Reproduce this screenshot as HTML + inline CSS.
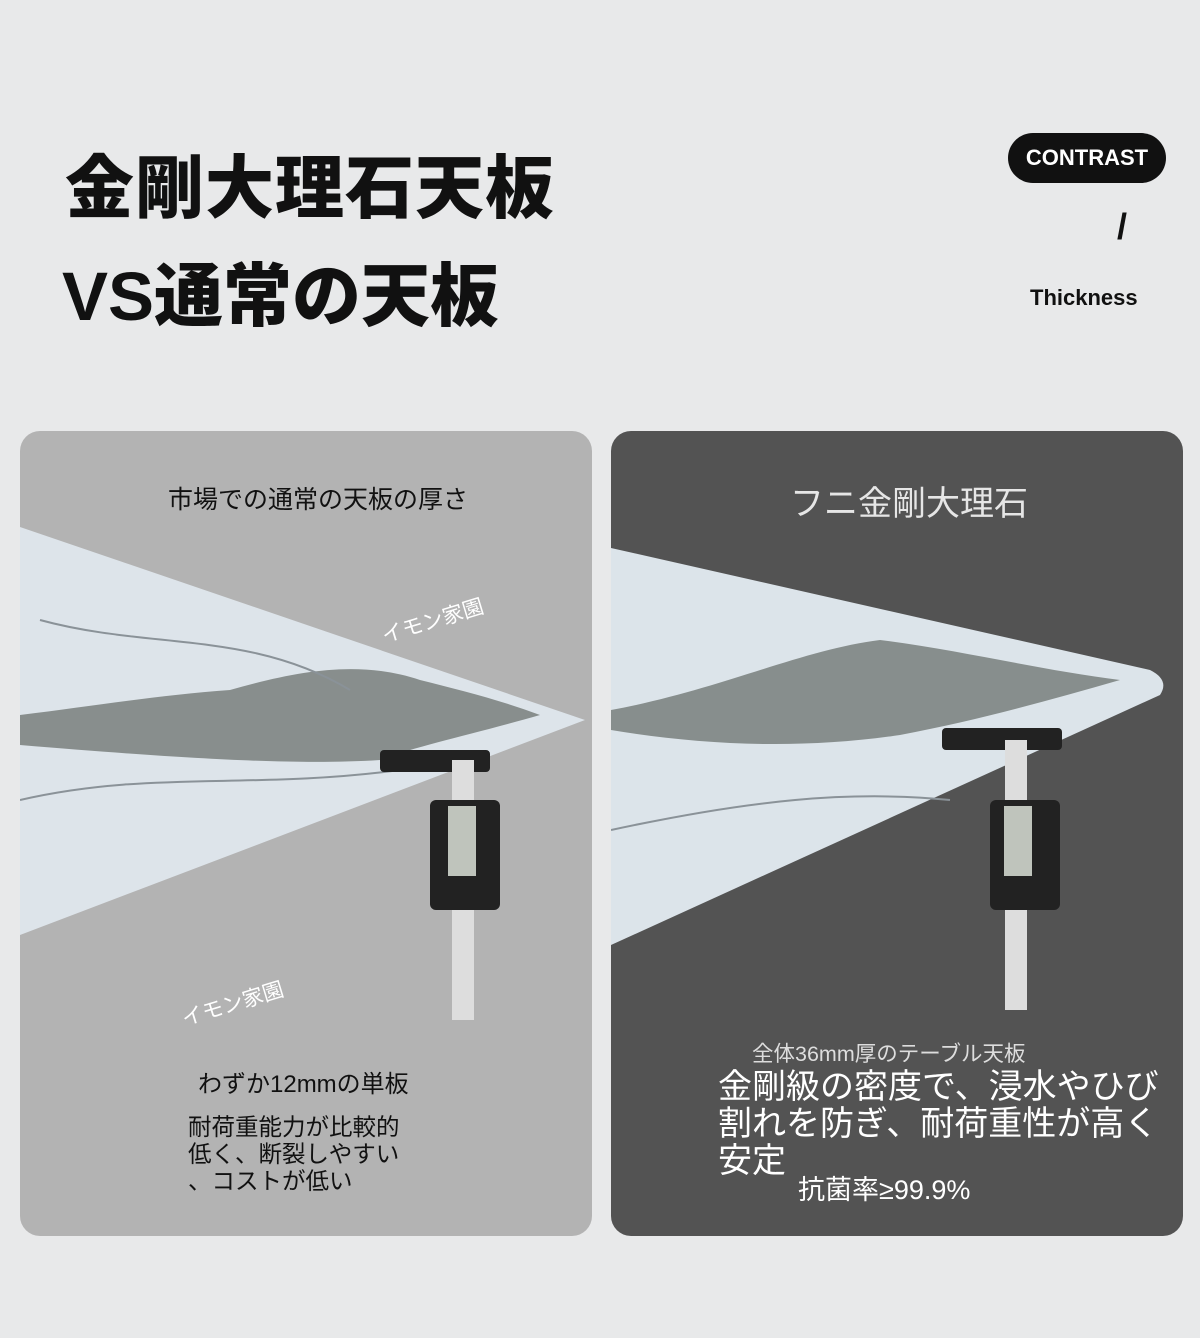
<!DOCTYPE html>
<html><head><meta charset="utf-8"><style>
body{margin:0;width:1200px;height:1338px;background:#e8e9ea;position:relative;overflow:hidden;font-family:"Liberation Sans","Noto Sans CJK JP",sans-serif}
.a{position:absolute;white-space:nowrap}
</style></head><body>
<div class="a" style="left:65px;top:132px;font-size:69px;font-weight:900;color:#111;letter-spacing:1px">金剛大理石天板</div>
<div class="a" style="left:62px;top:240px;font-size:69px;font-weight:900;color:#111">VS通常の天板</div>
<div class="a" style="left:1008px;top:133px;width:158px;height:50px;border-radius:25px;background:#111;color:#fff;font-weight:bold;font-size:22px;line-height:50px;text-align:center">CONTRAST</div>
<div class="a" style="left:1117px;top:206px;font-size:36px;font-weight:bold;color:#111">/</div>
<div class="a" style="left:1030px;top:285px;font-size:22px;font-weight:bold;color:#111">Thickness</div>

<svg class="a" style="left:0;top:0" width="1200" height="1338">
<defs>
<clipPath id="c1"><rect x="20" y="431" width="572" height="805" rx="20"/></clipPath>
<clipPath id="c2"><rect x="611" y="431" width="572" height="805" rx="20"/></clipPath>
</defs>
<rect x="20" y="431" width="572" height="805" rx="20" fill="#b3b3b3"/>
<rect x="611" y="431" width="572" height="805" rx="20" fill="#535353"/>
<g clip-path="url(#c1)">
<polygon points="20,527 585,720 20,935" fill="#dde4ea"/>
<path d="M20,715 C100,705 160,695 230,690 C300,670 360,660 420,680 C460,690 500,700 540,715 C470,735 420,745 380,760 C300,765 200,760 20,745Z" fill="#6b726e" opacity="0.75"/>
<path d="M20,800 C150,770 250,790 400,770" stroke="#8a9298" stroke-width="2" fill="none"/>
<path d="M40,620 C150,650 250,630 350,690" stroke="#8a9298" stroke-width="2" fill="none"/>
<rect x="380" y="750" width="110" height="22" fill="#222" rx="4"/>
<rect x="452" y="760" width="22" height="260" fill="#ddd"/>
<rect x="430" y="800" width="70" height="110" fill="#222" rx="6"/>
<rect x="448" y="806" width="28" height="70" fill="#bfc4bc"/>
</g>
<g clip-path="url(#c2)">
<path d="M611,548 L1150,670 Q1170,680 1160,695 L611,945Z" fill="#dce4ea"/>
<path d="M611,710 C720,690 800,650 880,640 C960,650 1040,670 1120,680 C1050,700 980,720 900,735 C800,750 700,745 611,730Z" fill="#6b726e" opacity="0.75"/>
<path d="M611,830 C750,800 850,790 950,800" stroke="#8a9298" stroke-width="2" fill="none"/>
<rect x="942" y="728" width="120" height="22" fill="#222" rx="4"/>
<rect x="1005" y="740" width="22" height="270" fill="#ddd"/>
<rect x="990" y="800" width="70" height="110" fill="#222" rx="6"/>
<rect x="1004" y="806" width="28" height="70" fill="#bfc4bc"/>
</g>
</svg>

<div class="a" style="left:168px;top:480px;font-size:25px;color:#111">市場での通常の天板の厚さ</div>
<div class="a" style="left:380px;top:605px;font-size:21px;color:#fff;transform:rotate(-17deg)">イモン家園</div>
<div class="a" style="left:180px;top:988px;font-size:21px;color:#fff;transform:rotate(-17deg)">イモン家園</div>
<div class="a" style="left:198px;top:1064px;font-size:24px;color:#111">わずか12mmの単板</div>
<div class="a" style="left:188px;top:1114px;font-size:23.5px;color:#111;line-height:27px">耐荷重能力が比較的<br>低く、断裂しやすい<br>、コストが低い</div>

<div class="a" style="left:790px;top:476px;font-size:34px;color:#e6e6e6">フニ金剛大理石</div>
<div class="a" style="left:752px;top:1037px;font-size:21.5px;color:#ddd">全体36mm厚のテーブル天板</div>
<div class="a" style="left:718px;top:1069px;font-size:34px;color:#fff;line-height:37px">金剛級の密度で、浸水やひび<br>割れを防ぎ、耐荷重性が高く<br>安定</div>
<div class="a" style="left:798px;top:1168px;font-size:27px;color:#fff">抗菌率≥99.9%</div>
</body></html>
